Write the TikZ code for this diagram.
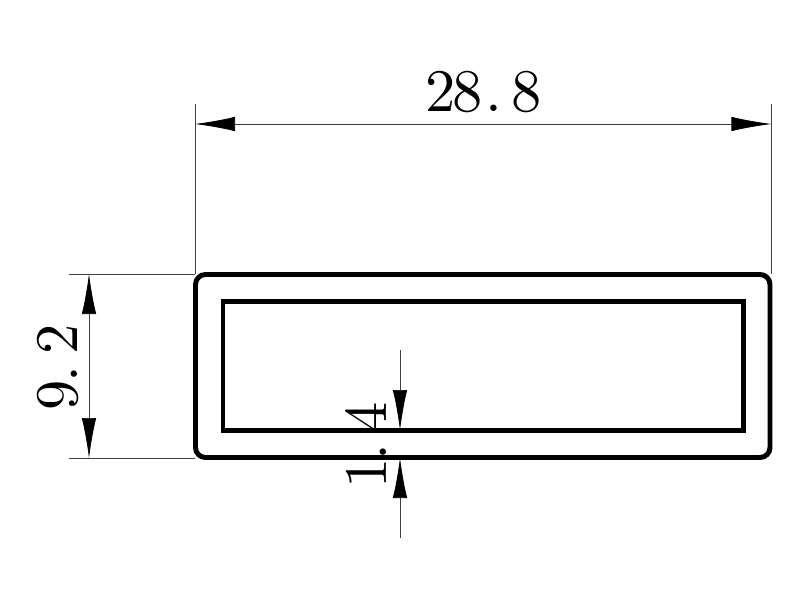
\documentclass[tikz,border=0pt]{standalone}
\usepackage{amsmath}
\usetikzlibrary{arrows.meta}
\font\dimfont=cmr10 at 43pt
\begin{document}
\begin{tikzpicture}
	\tikzstyle{profile}=[draw=black,line width=3.2pt,line join=miter]
	\tikzstyle{dimline}=[draw=black!75,line width=0.5pt]
	\tikzstyle{dimarrow}=[dimline,{Latex[length=1cm,width=0.36cm,black]}-{Latex[length=1cm,width=0.36cm,black]}]
	\tikzstyle{dimhead}=[dimline,-{Latex[length=1cm,width=0.36cm,black]}]
	\tikzstyle{dimtext}=[inner sep=0pt,anchor=base,font=\dimfont]
	\useasboundingbox (0,0) rectangle (20,15);
	\coordinate (outerA) at (4.8875,3.5625);
	\coordinate (outerB) at (19.25,8.1375);
	\coordinate (innerA) at (5.575,4.2375);
	\coordinate (innerB) at (18.5875,7.4625);
	\coordinate (topL) at (4.875,12.4);
	\coordinate (topR) at (19.285,12.4);
	\coordinate (widthL) at (4.875,11.9);
	\coordinate (widthR) at (19.285,11.9);
	\coordinate (leftT) at (1.725,8.15);
	\coordinate (leftB) at (1.725,3.55);
	\coordinate (cornerT) at (4.875,8.15);
	\coordinate (cornerB) at (4.875,3.55);
	\coordinate (cornerR) at (19.285,8.15);
	\coordinate (heightT) at (2.225,8.15);
	\coordinate (heightB) at (2.225,3.55);
	\coordinate (wallT) at (10,6.25);
	\coordinate (wallA) at (10,4.25);
	\coordinate (wallB) at (10,3.55);
	\coordinate (wallD) at (10,1.55);
	\draw[profile,line width=3.5pt,rounded corners=0.25cm] (outerA) rectangle (outerB);
	\draw[profile] (innerA) rectangle (innerB);
	\draw[dimline] (topL) -- (cornerT);
	\draw[dimline] (topR) -- (cornerR);
	\draw[dimline] (leftT) -- (cornerT);
	\draw[dimline] (leftB) -- (cornerB);
	\draw[dimarrow] (widthL) -- (widthR);
	\draw[dimarrow] (heightT) -- (heightB);
	\draw[dimhead] (wallT) -- (wallA);
	\draw[dimhead] (wallD) -- (wallB);
	\node[dimtext] (width) at (12.08,12.2) {2\kern-1.8pt 8\kern1.5pt.\kern6.5pt 8};
	\node[dimtext,rotate=90] (height) at (1.925,5.825) {9\kern-1.5pt.\kern8pt 2};
	\node[dimtext,rotate=90] (wall) at (9.65,3.875) {1\kern-1.5pt.\kern8pt 4};
\end{tikzpicture}
\end{document}
